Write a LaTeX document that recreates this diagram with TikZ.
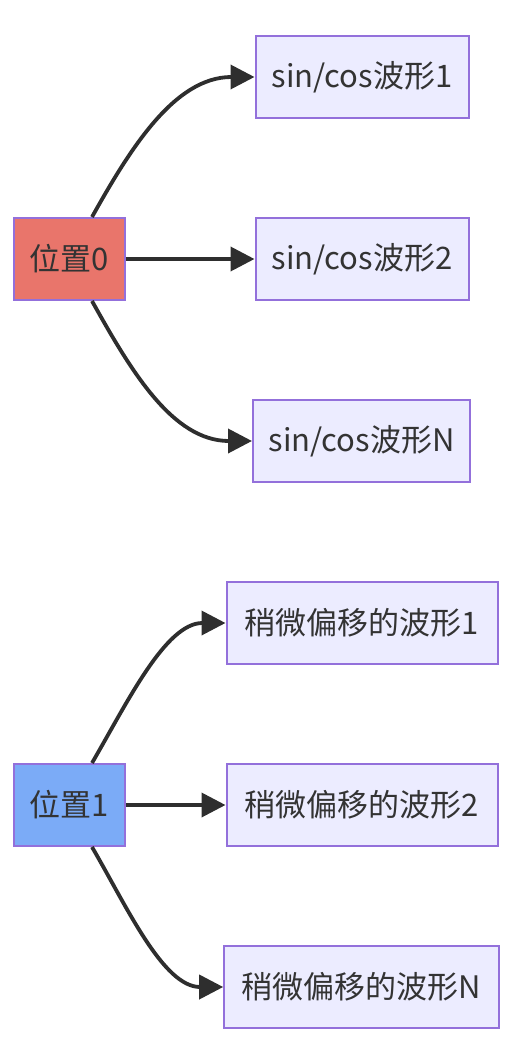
\documentclass[tikz,border=0pt]{standalone}
\usepackage{fontspec}
\setmainfont{Noto Sans CJK SC}
\usetikzlibrary{arrows.meta,calc}
\definecolor{boxfill}{HTML}{ECECFF}
\definecolor{boxline}{HTML}{9370DB}
\definecolor{redfill}{HTML}{E9756B}
\definecolor{bluefill}{HTML}{7BABF7}
\definecolor{ink}{HTML}{333333}
\definecolor{edgeink}{HTML}{2E2E2E}
\tikzset{
  base/.style={draw=boxline, line width=2pt, rectangle, inner sep=0pt,
    minimum height=82pt, text=ink, font=\fontsize{31}{36}\selectfont, anchor=center},
  wave/.style={base, fill=boxfill},
  posred/.style={base, fill=redfill, minimum width=111pt},
  posblue/.style={base, fill=bluefill, minimum width=111pt},
  edge/.style={draw=edgeink, line width=3.8pt, -{Triangle[length=24pt,width=24pt]}}
}
\begin{document}
\begin{tikzpicture}[x=1pt,y=-1pt]
\useasboundingbox (0,0) rectangle (512,1058);
% group 1
\node[posred] (p0) at (69.5,259) {位置0};
\node[wave, minimum width=213pt] (a1) at (362,77) {sin/cos波形1};
\node[wave, minimum width=213pt] (a2) at (362,259) {sin/cos波形2};
\node[wave, minimum width=217pt] (aN) at (361.5,441) {sin/cos波形N};
% group 2
\node[posblue] (p1) at (69.5,805) {位置1};
\node[wave, minimum width=271pt] (b1) at (362,623) {稍微偏移的波形1};
\node[wave, minimum width=271pt] (b2) at (362,805) {稍微偏移的波形2};
\node[wave, minimum width=275pt] (bN) at (361.7,987) {稍微偏移的波形N};
% edges group 1
\draw[edge] ([xshift=22.5pt]p0.north) .. controls ($([xshift=22.5pt]p0.north)+(38,-68)$) and ($(a1.west)+(-80,0)$) .. (a1.west);
\draw[edge] (p0.east) -- (a2.west);
\draw[edge] ([xshift=22.5pt]p0.south) .. controls ($([xshift=22.5pt]p0.south)+(38,68)$) and ($(aN.west)+(-80,0)$) .. (aN.west);
% edges group 2
\draw[edge] ([xshift=22.5pt]p1.north) .. controls ($([xshift=22.5pt]p1.north)+(35,-60)$) and ($(b1.west)+(-60,0)$) .. (b1.west);
\draw[edge] (p1.east) -- (b2.west);
\draw[edge] ([xshift=22.5pt]p1.south) .. controls ($([xshift=22.5pt]p1.south)+(35,60)$) and ($(bN.west)+(-60,0)$) .. (bN.west);
\end{tikzpicture}
\end{document}
